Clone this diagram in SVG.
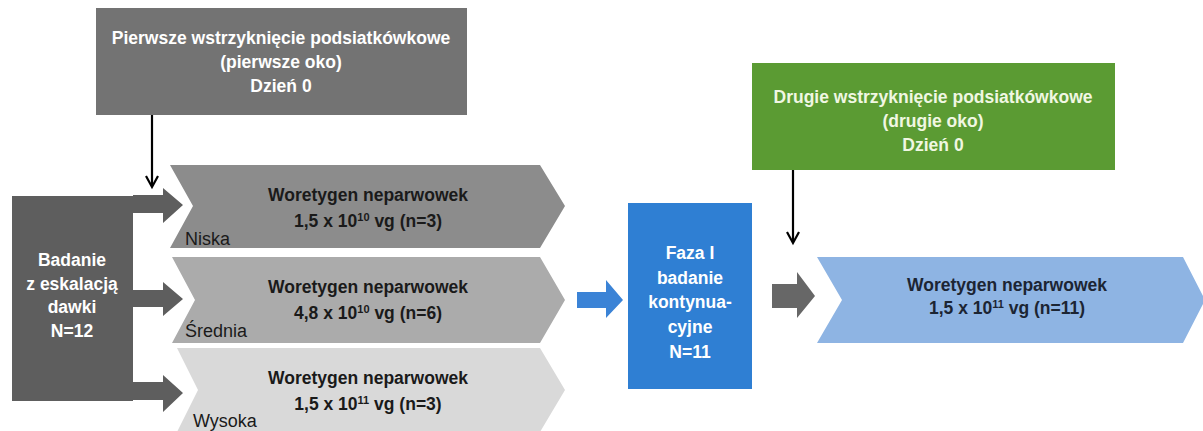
<svg xmlns="http://www.w3.org/2000/svg" width="1203" height="431" viewBox="0 0 1203 431">
<style>
text{font-family:"Liberation Sans",Arial,sans-serif;font-size:17.5px;font-weight:bold;text-anchor:middle}
.w{fill:#ffffff}
.d{fill:#1a1a1a}
.g{fill:#f0f7e2}
.lbl{font-weight:normal;font-size:18px;text-anchor:start;fill:#1a1a1a}
.sup{font-size:11px}
.blk{stroke:#000;stroke-width:2.2;fill:none}
</style>
<rect width="1203" height="431" fill="#ffffff"/>
<g id="first-injection">
<rect x="96" y="8" width="371" height="107" fill="#737373"/>
<text class="w" x="281" y="44">Pierwsze wstrzyknięcie podsiatkówkowe</text>
<text class="w" x="281" y="68">(pierwsze oko)</text>
<text class="w" x="281" y="92">Dzień 0</text>
</g>
<g id="dose-escalation">
<rect x="12" y="196" width="121" height="205" fill="#5e5e5e"/>
<text class="w" x="72" y="266">Badanie</text>
<text class="w" x="72" y="290">z eskalacją</text>
<text class="w" x="72" y="313">dawki</text>
<text class="w" x="72" y="337">N=12</text>
</g>
<g id="dose-low">
<polygon points="170,165 540,165 565,206 540,248 170,248 193,206" fill="#8c8c8c"/>
<text class="d" x="368" y="201">Woretygen neparwowek</text>
<text class="d" x="368" y="227">1,5 x 10<tspan class="sup" baseline-shift="super">10</tspan> vg (n=3)</text>
<text class="lbl" x="185" y="245">Niska</text>
</g>
<g id="dose-mid">
<polygon points="172,257 540,257 565,300 540,343 172,343 195,300" fill="#ababab"/>
<text class="d" x="368" y="293">Woretygen neparwowek</text>
<text class="d" x="368" y="319">4,8 x 10<tspan class="sup" baseline-shift="super">10</tspan> vg (n=6)</text>
<text class="lbl" x="185" y="337">Średnia</text>
</g>
<g id="dose-high">
<polygon points="177,348 540,348 565,390 540,432 177,432 198,390" fill="#d9d9d9"/>
<text class="d" x="368" y="384">Woretygen neparwowek</text>
<text class="d" x="368" y="410">1,5 x 10<tspan class="sup" baseline-shift="super">11</tspan> vg (n=3)</text>
<text class="lbl" x="193" y="427">Wysoka</text>
</g>
<g id="phase1-extension">
<rect x="628" y="203" width="124" height="186" fill="#2f7fd3"/>
<text class="w" x="690" y="259">Faza I</text>
<text class="w" x="690" y="284">badanie</text>
<text class="w" x="690" y="308">kontynua-</text>
<text class="w" x="690" y="333">cyjne</text>
<text class="w" x="690" y="358">N=11</text>
</g>
<g id="second-injection">
<rect x="752" y="63" width="363" height="107" fill="#5b9b33"/>
<text class="g" x="933" y="103">Drugie wstrzyknięcie podsiatkówkowe</text>
<text class="g" x="933" y="127">(drugie oko)</text>
<text class="g" x="933" y="151">Dzień 0</text>
</g>
<g id="extension-dose">
<polygon points="817,257 1183,257 1205,300 1183,343 817,343 842,300" fill="#8eb4e3"/>
<text x="1007" y="291" fill="#1c2533">Woretygen neparwowek</text>
<text x="1007" y="314" fill="#1c2533">1,5 x 10<tspan class="sup" baseline-shift="super">11</tspan> vg (n=11)</text>
</g>
<g id="connectors">
<path class="blk" d="M152,115 V186"/>
<path class="blk" d="M146,176 L152,187 L158,176"/>
<path class="blk" d="M793,170 V242"/>
<path class="blk" d="M787,232 L793,243 L799,232"/>
<polygon points="133,195 163,195 163,188 183,205 163,223 163,213 133,213" fill="#5e5e5e"/>
<polygon points="133,290 163,290 163,282 183,299 163,316 163,307 133,307" fill="#5e5e5e"/>
<polygon points="133,382 163,382 163,375 183,393 163,412 163,400 133,400" fill="#5e5e5e"/>
<polygon points="577,292 606,292 606,280 623,300 606,318 606,308 577,308" fill="#3b83d6"/>
<polygon points="772,284 797,284 797,272 815,296 797,318 797,308 772,308" fill="#676767"/>
</g>
</svg>
